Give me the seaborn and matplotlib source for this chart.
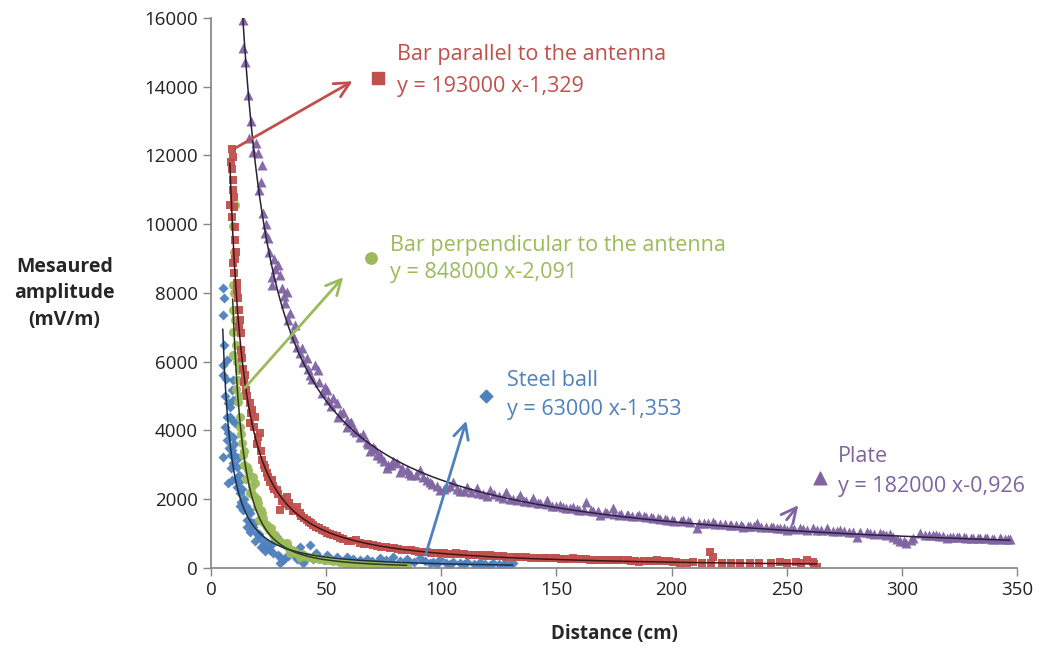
import numpy as np
import pandas as pd
import seaborn as sns
import matplotlib.pyplot as plt

# --- data ---
steel_x = [5.1, 5.4, 5.6, 5.4, 5.4, 6.8, 5.4, 6.1, 6.8, 7.5, 7.5, 8.2, 8.2, 9.0, 9.0, 9.0, 9.6, 9.6, 9.6, 9.6,
           10.4, 11.1, 11.1, 12.6, 13.2, 14.0, 15.5, 16.9, 18.3, 19.8, 22.0, 22.7, 24.2, 25.6, 28.5, 30.0, 30.0,
           31.3, 32.9, 35.7, 38.6, 40.0, 43.0, 45.8, 50.2, 54.6, 58.9, 61.8, 67.6, 73.4, 79.0, 84.9, 90.6, 96.4,
           99.4, 105, 111, 116.8, 122.6, 128, 131,
           6.2, 7.0, 8.5, 10.0, 12.0, 13.5, 15.0, 17.5, 21, 26.5, 34, 36.5, 47.5, 52, 64.5, 70, 76, 82, 88, 93,
           102, 108, 114, 119, 125,
           5.8, 6.5, 7.2, 7.8, 8.6, 9.3, 10.2, 10.8, 11.6, 12.3, 12.8, 14.5, 15.8, 16.3, 17.0, 18.8, 19.3, 20.5,
           21.5, 23.5, 24.8, 27, 29, 32, 33.5, 37.5, 39, 41.5, 44.5, 49, 56.5, 60, 62.5, 66, 72, 78, 86, 95, 98,
           104, 110, 117, 121, 127, 130]
steel_y = [7360, 8140, 7850, 5900, 5610, 6050, 3230, 4100, 3720, 3930, 2470, 4680, 4390, 5180, 3430, 2560, 5470,
           4890, 3810, 3050, 4220, 2940, 2360, 2180, 1920, 1690, 1400, 1600, 1190, 1020, 810, 610, 730, 520, 900,
           320, 145, 230, 610, 470, 610, 145, 670, 440, 380, 320, 320, 260, 260, 290, 320, 260, 290, 175, 260,
           175, 175, 175, 145, 145, 145,
           5000, 4400, 3300, 3600, 2700, 2300, 1800, 1350, 1000, 700, 420, 350, 300, 250, 230, 200, 220, 210,
           180, 200, 150, 140, 130, 120, 110,
           6500, 5500, 4800, 3500, 2900, 4300, 3300, 2600, 3200, 2500, 1800, 2000, 1200, 1700, 1050, 1300, 800,
           950, 600, 500, 650, 450, 380, 300, 350, 250, 420, 300, 270, 230, 200, 220, 180, 150, 160, 170, 140,
           150, 120, 110, 120, 100, 90, 100, 90]

perp_x = [10.4, 9.4, 9.6, 9.6, 9.6, 9.6, 12.2, 11.8, 11.8, 13.3, 16.1, 18.3, 19.0, 16.9, 19.8, 22.0, 24.2, 26.3,
          32.9, 34.3, 38.6, 44.3, 50.0, 56, 60, 65, 70, 75, 80, 85,
          10.0, 10.8, 11.0, 12.5, 13.8, 14.5, 15.2, 17.5, 20.5, 21.0, 23.0, 25.0, 27.5, 29.0, 30.5, 36, 40, 42,
          47, 53,
          9.9, 10.6, 11.3, 12.0, 12.8, 13.0, 14.2, 15.6, 16.5, 17.8, 18.8, 20.0, 21.5, 22.5, 24.5, 26, 28, 31.5,
          33.5, 35, 37, 39.5, 41, 45.5, 48.5, 51.5, 55, 58, 62, 67, 72, 77, 82]
perp_y = [10560, 9950, 8230, 7510, 6870, 6200, 5760, 5470, 4840, 3640, 2850, 2650, 2470, 2180, 1770, 1600, 1190,
          1020, 730, 440, 320, 290, 230, 175, 150, 120, 100, 90, 80, 70,
          8000, 6500, 5200, 4400, 3300, 3000, 2600, 2200, 1900, 1400, 1300, 1100, 900, 820, 760, 500, 380, 330,
          260, 200,
          9200, 7200, 6000, 5000, 4100, 3900, 3400, 2950, 2700, 2400, 2100, 2000, 1700, 1450, 1250, 1150, 950,
          700, 600, 520, 450, 400, 360, 280, 250, 220, 190, 160, 140, 110, 95, 85, 75]

par_x = [9.0, 9.6, 9.4, 9.6, 8.2, 9.0, 10.4, 10.4, 9.6, 10.0, 11.7, 12.6, 12.9, 13.2, 15.4, 16.9, 16.9, 19.0,
         21.3, 22.0, 24.2, 26.3, 28.5, 30.0, 32.9, 37.2, 41.5, 45.8, 50.2, 56, 63, 70.4, 77.7, 85, 92, 99.4,
         106.6, 114, 121, 128, 135, 143, 150, 157, 164.6, 171.8, 179, 186, 193.5, 200.7, 206.5, 209.4, 216.7,
         217, 218, 222, 229.7, 234, 238, 247, 254, 258.6, 261.5, 263,
         9.2, 10.2, 11.0, 11.5, 12.0, 14.0, 14.5, 18.0, 20.0, 23.0, 25.5, 27.5, 31, 34, 35.5, 39, 43.5, 48, 53,
         59.5, 66.5, 74, 81, 88.5, 95.5, 103, 110, 117.5, 124.5, 131.5, 139, 146.5, 153.5, 161, 168, 175.5,
         182.5, 190, 197, 203.5, 213, 226, 243, 250, 256, 262,
         8.8, 9.8, 10.6, 11.2, 12.2, 13.6, 14.8, 15.8, 17.5, 18.5, 20.6, 21.8, 23.5, 24.8, 26.8, 29.2, 30.8,
         32.2, 33.8, 36.2, 38.5, 40.5, 42.5, 44.5, 47, 49.5, 51.5, 54.5, 57.5, 61, 64.5, 68, 72, 76, 79.5, 83,
         87, 90.5, 94, 97.5, 101, 105, 108.5, 112, 116, 119.5, 123, 127, 133, 137, 141, 145, 149, 152, 156,
         159, 163, 166, 170, 173.5, 177, 181, 184, 188, 192, 195, 199, 202]
par_y = [12200, 11960, 11290, 11000, 10560, 10220, 9920, 9540, 8870, 8580, 7850, 7210, 6840, 6340, 5180, 4800,
         4220, 4390, 3930, 3140, 2760, 2560, 2270, 1690, 2070, 1770, 1400, 1190, 1020, 870, 810, 670, 580, 520,
         470, 430, 430, 380, 380, 320, 320, 290, 290, 290, 230, 230, 230, 175, 230, 175, 145, 175, 470, 145,
         320, 145, 145, 145, 145, 175, 175, 230, 175, 30,
         11600, 10800, 9200, 8300, 7500, 5800, 5400, 4600, 3600, 3000, 2500, 2300, 1950, 1800, 1650, 1500, 1300,
         1100, 950, 800, 700, 620, 560, 500, 450, 420, 400, 370, 340, 330, 300, 280, 270, 250, 240, 220, 210,
         200, 190, 160, 150, 140, 150, 160, 150, 120,
         11800, 10500, 9000, 8100, 7000, 6100, 5600, 5000, 4500, 4100, 3800, 3400, 2900, 2650, 2400, 2150, 2000,
         1850, 1900, 1700, 1600, 1450, 1350, 1250, 1150, 1080, 1000, 920, 850, 780, 740, 690, 640, 600, 570,
         530, 510, 480, 460, 440, 430, 410, 400, 390, 370, 360, 350, 340, 330, 310, 300, 290, 280, 270, 265,
         260, 250, 245, 240, 235, 225, 220, 215, 205, 200, 195, 190, 185]

plate_x = [13.7, 14.1, 14.8, 15.9, 16.5, 19.5, 18.3, 20.5, 22.2, 21.7, 22.7, 23.5, 24.8, 25.2, 26.5, 30.0, 26.3,
           30.8, 33.0, 34.3, 33.4, 36.5, 37.2, 38.6, 41.5, 45.2, 46.5, 49.5, 50.2, 53.0, 54.6, 57.3, 58.9, 60.4,
           64.7, 67.6, 70.4, 73.4, 76.3, 80.6, 84.9, 90.8, 93.6, 99.4, 105, 111, 115.4, 121, 128, 134, 140, 145.8,
           151.5, 157, 163, 169, 174.6, 180.5, 186, 192, 198, 205, 210.9, 218, 225.4, 231, 237, 244, 250, 255.8,
           261.5, 267.4, 273, 280.4, 284.7, 290.5, 296, 302, 305, 307.9, 313.6, 319.5, 325, 331, 337, 342.6, 347,
           28, 32, 35, 40, 43, 48, 52, 56, 62, 66, 69, 72, 75, 78, 82, 87, 96, 102, 108, 118, 125, 131, 137, 143,
           148, 154, 160, 166, 172, 177, 183, 189, 195, 201, 208, 214, 221, 228, 234, 241, 247, 253, 259, 265,
           270, 277, 288, 293, 299, 310, 316, 322, 328, 334, 340, 345,
           17.5, 21, 24, 27.5, 29, 31.5, 36, 39.5, 42, 44, 47, 51, 55, 59, 61, 63, 68, 71, 74, 77, 79, 83, 86, 89,
           92, 95, 98, 101, 104, 107, 110, 113, 116, 120, 123, 127, 130, 133, 136, 139, 142, 146, 150, 153, 156,
           159, 162, 165, 168, 171, 175, 178, 181, 185, 188, 191, 194, 197, 200, 204, 207, 212, 216, 219, 223,
           226, 230, 233, 236, 239, 243, 246, 249, 252, 257, 263, 268, 272, 275, 279, 282, 286, 292, 295, 298,
           301, 304, 312, 315, 318, 321, 324, 327, 330, 333, 336, 339, 343, 346]
plate_y = [15940, 15130, 14720, 13760, 12510, 12360, 12100, 12070, 11720, 11230, 10330, 9740, 9600, 9200, 8470,
           8520, 8230, 8140, 8030, 7410, 7200, 7070, 6440, 6250, 6110, 5900, 5760, 5270, 5180, 4950, 4800, 4540,
           4300, 4220, 3810, 3670, 3520, 3290, 2910, 3050, 2850, 2850, 2560, 2270, 2500, 2360, 2330, 2270, 2210,
           2120, 2030, 1980, 1830, 1770, 1920, 1540, 1740, 1540, 1540, 1450, 1400, 1400, 1160, 1340, 1250, 1190,
           1310, 1190, 1100, 1160, 1160, 1160, 1100, 900, 1050, 1020, 900, 730, 870, 1020, 960, 870, 900, 870,
           870, 870, 840,
           8700, 7700, 6800, 6000, 5600, 5100, 4700, 4500, 4000, 3900, 3400, 3300, 3100, 3000, 2800, 2700, 2450,
           2350, 2250, 2150, 2100, 2000, 1950, 1900, 1800, 1750, 1700, 1650, 1600, 1550, 1500, 1480, 1420, 1380,
           1350, 1300, 1280, 1250, 1220, 1200, 1150, 1130, 1120, 1100, 1080, 1050, 990, 960, 800, 950, 930, 900,
           880, 860, 850, 830,
           13000, 11000, 10000, 9000, 8800, 7900, 6700, 6400, 5800, 5500, 5400, 4900, 4400, 4100, 4250, 3950,
           3600, 3450, 3200, 3000, 3100, 2900, 2750, 2700, 2650, 2500, 2400, 2300, 2380, 2300, 2250, 2200, 2180,
           2100, 2150, 2050, 2020, 1980, 1960, 1920, 1880, 1850, 1800, 1780, 1760, 1720, 1700, 1680, 1650, 1620,
           1580, 1560, 1540, 1510, 1500, 1480, 1450, 1430, 1400, 1380, 1370, 1320, 1300, 1290, 1270, 1260, 1240,
           1230, 1210, 1200, 1180, 1170, 1160, 1150, 1140, 1120, 1100, 1090, 1070, 1060, 1050, 1030, 1000, 990,
           850, 780, 820, 960, 950, 930, 910, 900, 890, 880, 870, 860, 855, 850, 840]

# power-law trend lines as printed on the chart: y = a * x^b
names = ["Steel ball", "Bar perpendicular to the antenna", "Bar parallel to the antenna", "Plate"]
coef_a = [63000, 848000, 193000, 182000]
coef_b = [-1.353, -2.091, -1.329, -0.926]
eq_labels = ["y = 63000 x-1,353", "y = 848000 x-2,091", "y = 193000 x-1,329", "y = 182000 x-0,926"]
colors = ["#4f81bd", "#9bbb59", "#c0504d", "#8064a2"]
trend_colors = ["#1c2f4a", "#2e3a1a", "#3f1515", "#2a1f3c"]
markers = ["D", "o", "s", "^"]
sizes = [26, 42, 40, 52]

xs = [steel_x, perp_x, par_x, plate_x]
ys = [steel_y, perp_y, par_y, plate_y]

sns.set_theme(style="ticks")
plt.rcParams['font.family'] = ['Open Sans', 'DejaVu Sans']

fig = plt.figure(figsize=(10.42, 6.49), dpi=100)
ax = fig.add_axes([0.2025, 0.1248, 0.7735, 0.8475])

for i in range(4):
    df = pd.DataFrame({"x": xs[i], "y": ys[i]})
    sns.scatterplot(data=df, x="x", y="y", ax=ax, color=colors[i], marker=markers[i],
                    s=sizes[i], linewidth=0, alpha=0.95, zorder=2)

for i in range(4):
    tx = np.linspace(min(xs[i]), max(xs[i]), 400)
    ty = coef_a[i] * tx ** coef_b[i]
    sns.lineplot(x=tx, y=ty, ax=ax, color=trend_colors[i], lw=1.1, zorder=3)

# annotations: arrow start, arrow end, marker position, text x, name y, equation y (data coords)
ann = [
    ((92.9, 320), (111.2, 4360), (119.4, 5000), 128.5, 5440, 4600),
    ((13.9, 5180), (58.2, 8520), (69.5, 9020), 77.7, 9370, 8610),
    ((9.1, 12160), (62.5, 14200), (72.5, 14250), 80.8, 14950, 14020),
    ((249.2, 1340), (255.8, 1890), (264.4, 2620), 272.3, 3230, 2360),
]
for i, (a0, a1, mk, tx0, ny, ey) in enumerate(ann):
    ax.annotate("", xy=a1, xytext=a0,
                arrowprops=dict(arrowstyle="->,head_length=0.9,head_width=0.45", color=colors[i], lw=2),
                zorder=4)
    ax.scatter([mk[0]], [mk[1]], marker=markers[i], color=colors[i], s=sizes[i] * 1.6, zorder=5)
    ax.text(tx0, ny, names[i], color=colors[i], fontsize=15.5, va="center", ha="left")
    ax.text(tx0, ey, eq_labels[i], color=colors[i], fontsize=15.5, va="center", ha="left")

ax.set_xlim(0, 350)
ax.set_ylim(0, 16000)
ax.set_xticks(range(0, 351, 50))
ax.set_yticks(range(0, 16001, 2000))
ax.tick_params(axis="both", direction="out", length=6, width=1, color="#868686",
               labelsize=13.5, labelcolor="#222222")
for side in ["left", "bottom"]:
    ax.spines[side].set_color("#868686")
sns.despine(ax=ax)

ax.set_xlabel("Distance (cm)", fontsize=13.5, fontweight="bold", labelpad=18)
ax.set_ylabel("")
fig.text(0.062, 0.548, "Mesaured\namplitude\n(mV/m)", ha="center", va="center",
         fontsize=14, fontweight="bold", linespacing=1.45)

fig.savefig("out.png", dpi=100)
